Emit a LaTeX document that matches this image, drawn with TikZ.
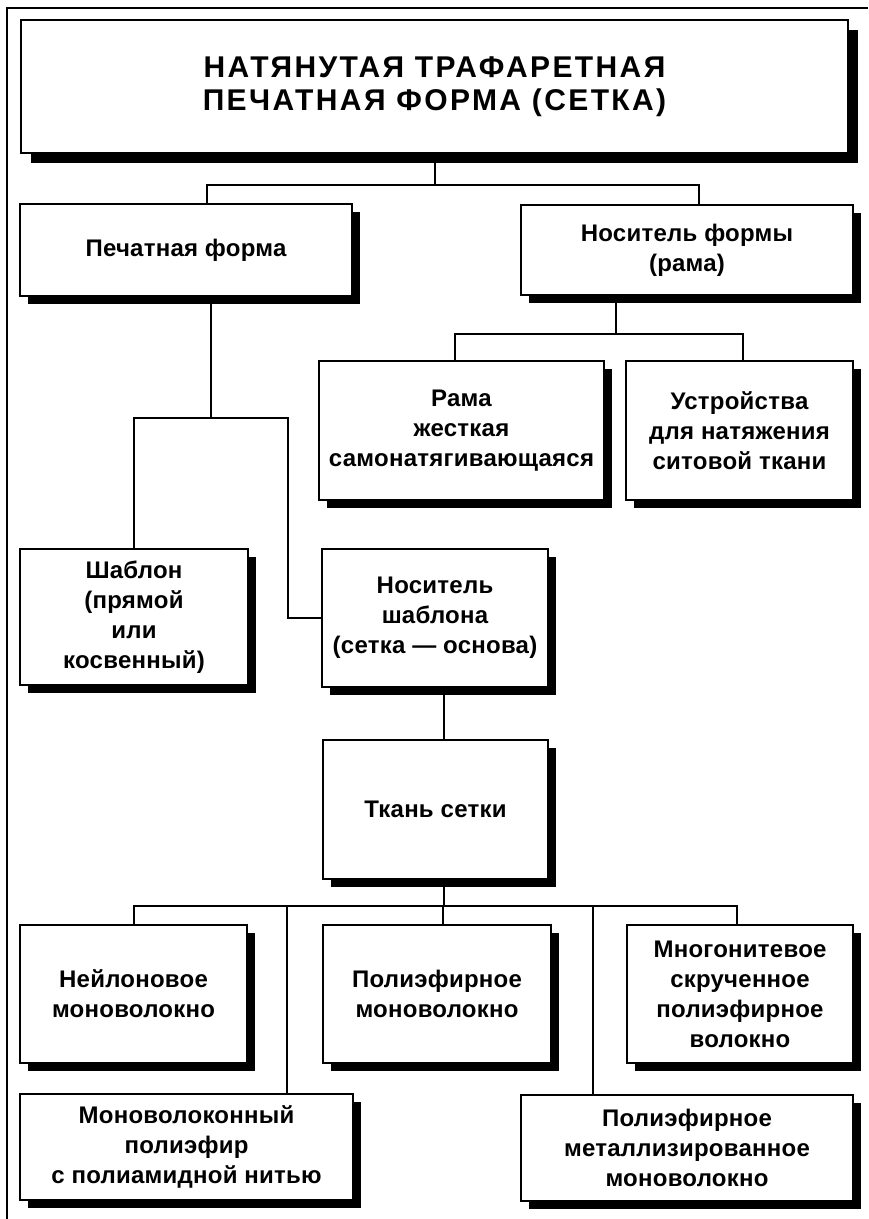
\documentclass[tikz,border=0pt]{standalone}
\usepackage{fontspec}
\setmainfont{Liberation Sans}[LetterSpace=1]
\newfontfamily\titlefont{Liberation Sans}[LetterSpace=8]
\usetikzlibrary{calc,shadows}
\tikzset{
  box/.style={draw=black, line width=1.2pt, fill=white, align=center, inner sep=0pt,
    font=\bfseries\fontsize{12}{15}\selectfont},
  sh/.style={drop shadow={shadow xshift=#1, shadow yshift=-#1, fill=black, opacity=1}},
  sh/.default=4pt,
  conn/.style={line width=1pt},
  frame/.style={line width=0.8pt}
}
\begin{document}
\begin{tikzpicture}[x=0.5pt,y=-0.5pt]
\useasboundingbox (0,0) rectangle (868,1219);
\draw[frame] (7,1219) -- (7,8) -- (868,8);

\node[box, sh=5pt, minimum width=413.5pt, minimum height=66.5pt,
  font=\titlefont\bfseries\fontsize{15}{16.5}\selectfont] (title) at (434.5,86.5)
  {НАТЯНУТАЯ ТРАФАРЕТНАЯ\\ПЕЧАТНАЯ ФОРМА (СЕТКА)};
\node[box, sh, minimum width=166pt, minimum height=46pt] (pf) at (186,250) {Печатная форма};
\node[box, sh, minimum width=166pt, minimum height=45pt] (nf) at (687,250) {Носитель формы\\(рама)};
\node[box, sh, minimum width=142.5pt, minimum height=69.5pt] (rama) at (461.5,430.5) {Рама\\жесткая\\самонатягивающаяся};
\node[box, sh, minimum width=113.5pt, minimum height=69.5pt] (ustr) at (739.5,430.5) {Устройства\\для натяжения\\ситовой ткани};
\node[box, sh, minimum width=114pt, minimum height=68pt] (shab) at (134,617) {Шаблон\\(прямой\\или\\косвенный)};
\node[box, sh, minimum width=113pt, minimum height=69pt] (nsh) at (435,618) {Носитель\\шаблона\\(сетка — основа)};
\node[box, sh, minimum width=112.5pt, minimum height=69.5pt] (tkan) at (435.5,809.5) {Ткань сетки};
\node[box, sh, minimum width=113.5pt, minimum height=69pt] (neyl) at (133.5,994) {Нейлоновое\\моноволокно};
\node[box, sh, minimum width=114pt, minimum height=69pt] (poli) at (437,994) {Полиэфирное\\моноволокно};
\node[box, sh, minimum width=113pt, minimum height=69pt] (mnog) at (740,994) {Многонитевое\\скрученное\\полиэфирное\\волокно};
\node[box, sh, minimum width=166.5pt, minimum height=53pt] (monov) at (186.5,1147) {Моноволоконный\\полиэфир\\с полиамидной нитью};
\node[box, sh, minimum width=166pt, minimum height=53pt] (pmet) at (687,1148) {Полиэфирное\\металлизированное\\моноволокно};

% title -> level 1
\draw[conn] (title.south) -- ++(0,31) coordinate (tj);
\draw[conn] (tj) -| ($(pf.north)+(21,0)$);
\draw[conn] (tj) -| ($(nf.north)+(12,0)$);
% nf -> rama, ustr
\draw[conn] ($(nf.south)+(-71,0)$) -- ++(0,38) coordinate (nj);
\draw[conn] (nj) -| ($(rama.north)+(-6.5,0)$);
\draw[conn] (nj) -| ($(ustr.north)+(3.5,0)$);
% pf -> shab, nsh
\draw[conn] ($(pf.south)+(25,0)$) -- ++(0,121) coordinate (pj);
\draw[conn] (pj) -| (shab.north);
\draw[conn] (pj) -- ++(77,0) |- (nsh.west);
% nsh -> tkan
\draw[conn] ($(nsh.south)+(9,0)$) -- ($(tkan.north)+(8.5,0)$);
% tkan -> bottom
\draw[conn] ($(tkan.south)+(8.5,0)$) -- ++(0,26) coordinate (kj);
\draw[conn] (kj) -| (neyl.north);
\draw[conn] (kj) -| ($(monov.north)+(100.5,0)$);
\draw[conn] (kj) -| ($(poli.north)+(6,0)$);
\draw[conn] (kj) -| ($(pmet.north)+(-94,0)$);
\draw[conn] (kj) -| ($(mnog.north)+(-3,0)$);
\end{tikzpicture}
\end{document}
